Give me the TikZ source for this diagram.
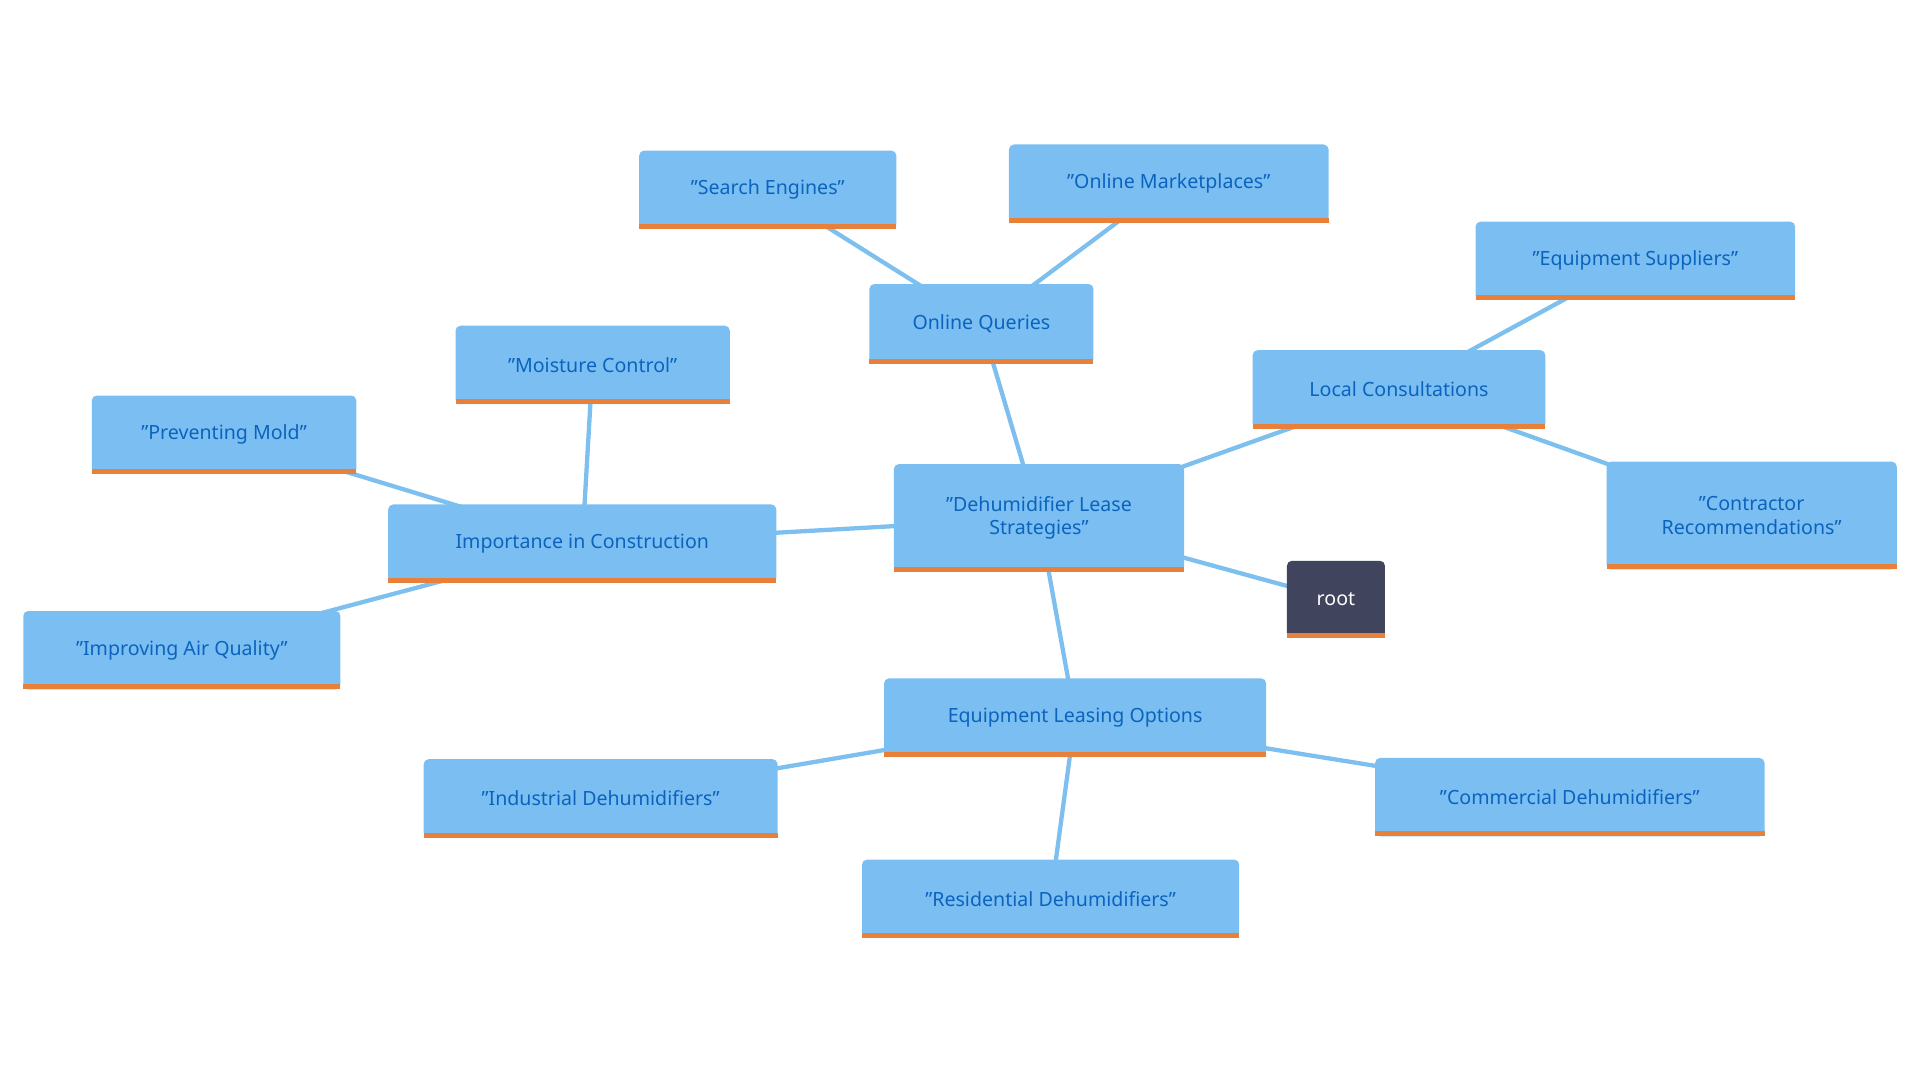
\documentclass[tikz,border=0pt]{standalone}
\usepackage{fontspec}
\setmainfont{Noto Sans}
\usetikzlibrary{backgrounds}
\definecolor{boxc}{HTML}{7BBFF2}
\definecolor{txtc}{HTML}{0B63BE}
\definecolor{barc}{HTML}{E8803A}
\definecolor{edgec}{HTML}{7DBFEE}
\definecolor{rootc}{HTML}{40445C}
\tikzset{box/.style={fill=boxc,rounded corners=4pt,inner sep=0pt,text=txtc,align=center,font=\fontsize{16}{19}\selectfont},
 rbox/.style={box,fill=rootc,text=white},
 edge/.style={edgec,line width=3.5pt}}
\newcommand{\nd}[7][box]{%
 \node[#1,minimum width=#5-#3,minimum height=#6-#4] (#2) at ({(#3+#5)/2},{-(#4+#6)/2}) {#7};
 \fill[barc] (#3,-#6) rectangle (#5,-#6+4);}
\begin{document}
\begin{tikzpicture}[x=1pt,y=1pt]
\useasboundingbox (0,0) rectangle (1568,-882);
\nd{se}{522}{123}{732}{187}{"Search Engines"}
\nd{om}{824}{118}{1085}{182}{"Online Marketplaces"}
\nd{es}{1205}{181}{1466}{245}{"Equipment Suppliers"}
\nd{oq}{710}{232}{893}{297}{Online Queries}
\nd{lc}{1023}{286}{1262}{350}{Local Consultations}
\nd{mc}{372}{266}{596}{330}{"Moisture Control"}
\nd{pm}{75}{323}{291}{387}{"Preventing Mold"}
\nd{ic}{317}{412}{634}{476}{Importance in Construction}
\nd{aq}{19}{499}{278}{563}{"Improving Air Quality"}
\nd{dl}{730}{379}{967}{467}{"Dehumidifier Lease\\Strategies"}
\nd{cr}{1312}{377}{1549}{465}{"Contractor\\Recommendations"}
\nd[rbox]{root}{1051}{458}{1131}{521}{root}
\nd{el}{722}{554}{1034}{618}{Equipment Leasing Options}
\nd{id}{346}{620}{635}{684}{"Industrial Dehumidifiers"}
\nd{cd}{1123}{619}{1441}{683}{"Commercial Dehumidifiers"}
\nd{rd}{704}{702}{1012}{766}{"Residential Dehumidifiers"}
\begin{scope}[on background layer]
\draw[edge] (dl.center)--(root.center);
\draw[edge] (dl.center)--(oq.center);
\draw[edge] (dl.center)--(lc.center);
\draw[edge] (dl.center)--(ic.center);
\draw[edge] (dl.center)--(el.center);
\draw[edge] (oq.center)--(se.center);
\draw[edge] (oq.center)--(om.center);
\draw[edge] (lc.center)--(es.center);
\draw[edge] (lc.center)--(cr.center);
\draw[edge] (ic.center)--(mc.center);
\draw[edge] (ic.center)--(pm.center);
\draw[edge] (ic.center)--(aq.center);
\draw[edge] (el.center)--(id.center);
\draw[edge] (el.center)--(cd.center);
\draw[edge] (el.center)--(rd.center);
\end{scope}
\end{tikzpicture}
\end{document}
